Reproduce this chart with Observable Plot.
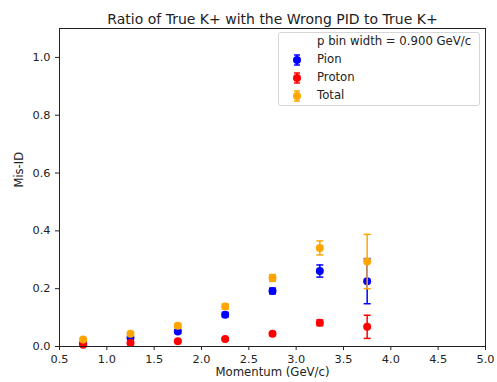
<!DOCTYPE html>
<html>
<head>
<meta charset="utf-8">
<script src="https://cdn.jsdelivr.net/npm/d3@7"></script>
<script src="https://cdn.jsdelivr.net/npm/@observablehq/plot@0.6"></script>
<style>
  body { margin: 0; background: #fff; }
  #wrap { position: relative; width: 497px; height: 382px; font-family: "DejaVu Sans", sans-serif; }
  #legend { position: absolute; left: 278px; top: 32px; width: 200px; height: 72px; border: 1px solid #d6d6d6; border-radius: 3px; background: rgba(255,255,255,0.8); font-size: 11.7px; color: #222; }
  .row { position: absolute; left: 0; height: 18px; width: 100%; }
  .row span { position: absolute; left: 38px; top: 1px; white-space: nowrap; }
  .row svg { position: absolute; left: 10px; top: 0; }
</style>
</head>
<body>
<div id="wrap"></div>
<script>
const momentum = [0.75, 1.25, 1.75, 2.25, 2.75, 3.25, 3.75];
const pion      = [0.010, 0.030, 0.052, 0.110, 0.192, 0.261, 0.226];
const pionErr   = [0.003, 0.005, 0.006, 0.008, 0.010, 0.021, 0.078];
const proton    = [0.006, 0.012, 0.018, 0.026, 0.044, 0.082, 0.068];
const protonErr = [0.002, 0.003, 0.003, 0.004, 0.006, 0.010, 0.040];
const total     = [0.024, 0.044, 0.072, 0.138, 0.237, 0.341, 0.294];
const totalErr  = [0.004, 0.006, 0.007, 0.009, 0.012, 0.024, 0.094];
const seriesNames = ["Pion", "Proton", "Total"];
const seriesColors = ["blue", "red", "orange"];
const xTicks = [0.5, 1.0, 1.5, 2.0, 2.5, 3.0, 3.5, 4.0, 4.5, 5.0];
const yTicks = [0.0, 0.2, 0.4, 0.6, 0.8, 1.0];
const titleText = "Ratio of True K+ with the Wrong PID to True K+";
const xLabel = "Momentum (GeV/c)";
const yLabel = "Mis-ID";
const legendHeader = "p bin width = 0.900 GeV/c";

const vals = [pion, proton, total];
const errs = [pionErr, protonErr, totalErr];

const capSymbol = {
  draw(context, size) {
    const r = Math.sqrt(size / Math.PI);
    context.moveTo(-r, 0);
    context.lineTo(r, 0);
  }
};

const seriesMarks = [];
seriesNames.forEach((name, s) => {
  const rows = momentum.map((m, i) => ({x: m, y: vals[s][i], lo: vals[s][i] - errs[s][i], hi: vals[s][i] + errs[s][i]}));
  const c = seriesColors[s];
  seriesMarks.push(
    Plot.ruleX(rows, {x: "x", y1: "lo", y2: "hi", stroke: c, strokeWidth: 1.5}),
    Plot.dot(rows, {x: "x", y: "lo", symbol: capSymbol, r: 3.5, stroke: c, strokeWidth: 1.5}),
    Plot.dot(rows, {x: "x", y: "hi", symbol: capSymbol, r: 3.5, stroke: c, strokeWidth: 1.5}),
    Plot.dot(rows, {x: "x", y: "y", r: 4, fill: c, stroke: "none"})
  );
});

const chart = Plot.plot({
  width: 497,
  height: 382,
  marginLeft: 59,
  marginRight: 12,
  marginTop: 28,
  marginBottom: 36,
  style: {fontFamily: "DejaVu Sans, sans-serif", fontSize: "11.3px", color: "#222", background: "white"},
  x: {domain: [0.5, 5.0]},
  y: {domain: [0, 1.1]},
  marks: [
    ...seriesMarks,
    Plot.frame({stroke: "#222"}),
    Plot.axisX({ticks: xTicks, tickFormat: d3.format(".1f"), tickSize: 4, tickPadding: 4, label: null, stroke: "#222"}),
    Plot.axisY({ticks: yTicks, tickFormat: d3.format(".1f"), tickSize: 4, tickPadding: 5, label: null, stroke: "#222"}),
    Plot.text([xLabel], {text: d => d, frameAnchor: "bottom", dy: 29, fontSize: 11.7, fill: "#222"}),
    Plot.text([yLabel], {text: d => d, frameAnchor: "left", rotate: -90, dx: -40, fontSize: 11.5, fill: "#222"}),
    Plot.text([titleText], {text: d => d, frameAnchor: "top", dy: -14, fontSize: 14, fill: "#222"})
  ]
});

const wrap = document.getElementById("wrap");
wrap.appendChild(chart);

const legend = document.createElement("div");
legend.id = "legend";
const hdr = document.createElement("div");
hdr.className = "row";
hdr.style.top = "0px";
hdr.innerHTML = `<span>${legendHeader}</span>`;
legend.appendChild(hdr);
seriesNames.forEach((name, s) => {
  const row = document.createElement("div");
  row.className = "row";
  row.style.top = (18 + s * 18) + "px";
  const c = seriesColors[s];
  row.innerHTML = `<svg width="16" height="18"><line x1="8" x2="8" y1="4" y2="14" stroke="${c}" stroke-width="1.5"/><line x1="5" x2="11" y1="4" y2="4" stroke="${c}" stroke-width="1.5"/><line x1="5" x2="11" y1="14" y2="14" stroke="${c}" stroke-width="1.5"/><circle cx="8" cy="9" r="4" fill="${c}"/></svg><span>${name}</span>`;
  legend.appendChild(row);
});
wrap.appendChild(legend);
</script>
</body>
</html>
